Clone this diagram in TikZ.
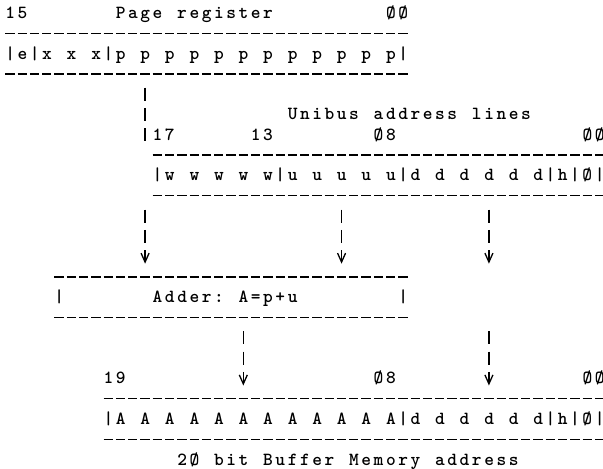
\documentclass[tikz,border=0pt]{standalone}
\usepackage{fontspec}
\usetikzlibrary{arrows.meta}
% one typewriter cell is 12.28pt wide
\ExplSyntaxOn
\NewDocumentCommand\typed{m}{\str_map_inline:nn{#1}{\makebox[12.28pt]{##1}}}
\ExplSyntaxOff
\begin{document}
\begin{tikzpicture}[x=12.28pt, y=-20.3pt, font=\ttfamily\bfseries\fontsize{18.5}{18.5}\selectfont,
    tw/.style={inner sep=0pt, anchor=base west, xshift=-6.14pt, yshift=-5.5pt},
    dashrow/.style={line width=1.3pt, dash pattern=on 9.28pt off 3pt},
    vbar/.style={line width=1.3pt, dash pattern=on 13pt off 7.3pt},
    feed/.style={vbar, -{Straight Barb[length=9pt, width=8pt]}}]
\path[use as bounding box] (-0.814,-0.640) rectangle (48.29,22.46);
% page register
\node[tw] (msb) at (0,0) {\typed{15}};
\node[tw] (pagelbl) at (9,0) {\typed{Page register}};
\node[tw] (lsb) at (31,0) {\typed{ØØ}};
\node[tw] (pagereg) at (0,2) {\typed{|e|x x x|p p p p p p p p p p p p|}};
% unibus address
\node[tw] (unilbl) at (23,5) {\typed{Unibus address lines}};
\node[tw] (u17) at (12,6) {\typed{17}};
\node[tw] (u13) at (20,6) {\typed{13}};
\node[tw] (u08) at (30,6) {\typed{Ø8}};
\node[tw] (u00) at (47,6) {\typed{ØØ}};
\node[tw] (unibus) at (12,8) {\typed{|w w w w w|u u u u u|d d d d d d|h|Ø|}};
% adder
\node[tw] (addleft) at (4,14) {\typed{|}};
\node[tw] (adder) at (12,14) {\typed{Adder: A=p+u}};
\node[tw] (addright) at (32,14) {\typed{|}};
% buffer memory address
\node[tw] (b19) at (8,18) {\typed{19}};
\node[tw] (b08) at (30,18) {\typed{Ø8}};
\node[tw] (b00) at (47,18) {\typed{ØØ}};
\node[tw] (buffer) at (8,20) {\typed{|A A A A A A A A A A A A|d d d d d d|h|Ø|}};
\node[tw] (buflbl) at (14,22) {\typed{2Ø bit Buffer Memory address}};
% rules of hyphens
\foreach \a/\b/\l in {0/32/1,0/32/3,12/48/7,12/48/9,4/32/13,4/32/15,8/48/19,8/48/21}
  \draw[dashrow] ([xshift=-4.64pt]\a,\l) -- ([xshift=4.64pt]\b,\l);
% connectors
\coordinate (p-out) at (11,3.68);
\coordinate (u-in) at (11,6.32);
\draw[vbar] (p-out) -- (u-in);
\foreach \c [count=\i] in {11,27,39}{
  \coordinate (s\i) at (\c,9.68);
  \coordinate (t\i) at (\c,12.35);
  \draw[feed] (s\i) -- (t\i);
}
\foreach \c [count=\i] in {19,39}{
  \coordinate (a\i) at (\c,15.68);
  \coordinate (b\i) at (\c,18.35);
  \draw[feed] (a\i) -- (b\i);
}
\end{tikzpicture}
\end{document}
